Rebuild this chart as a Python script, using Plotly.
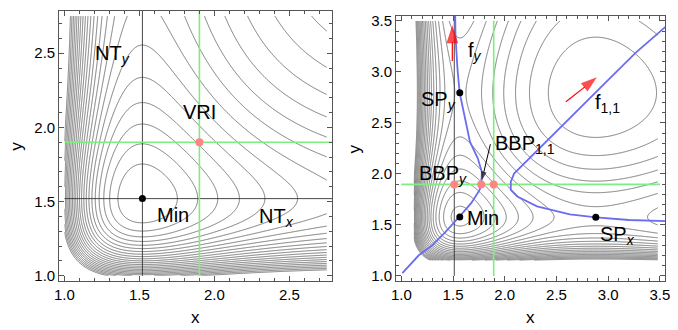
import numpy as np
import plotly.graph_objects as go

# ---------------- data ----------------
# model surface: two Morse-type valleys
R0 = 1.52            # position of the minimum of the unperturbed surface
R_VRI = 1.9          # valley-ridge inflection point coordinate
left_domain = [1.0, 2.75]
left_level_step = 0.12
left_level_max = 2.76

right_domain_x = [1.12, 3.48]
right_domain_y = [1.15, 3.5]
right_level_base = 0.0072
right_level_step = 0.0663
right_level_max = 1.45

# left panel points
min_left = [1.52, 1.52]
vri_pt = [1.9, 1.9]

# right panel points
min_right = [1.565, 1.578]
sp_x = [2.88, 1.575]
sp_y = [1.565, 2.795]
bbp_xs = [1.512, 1.772, 1.893]
bbp_ys = [1.897, 1.897, 1.897]

# Newton trajectories (blue curves)
nt1_x = [1.010, 1.169, 1.296, 1.423, 1.560, 1.677, 1.757, 1.772, 1.779, 1.740, 1.664, 1.614, 1.564, 1.543, 1.524, 1.519]
nt1_y = [1.027, 1.202, 1.298, 1.427, 1.579, 1.715, 1.843, 1.897, 2.015, 2.150, 2.313, 2.546, 2.795, 3.026, 3.346, 3.666]
nt2_x = [3.645, 3.534, 3.264, 2.947, 2.629, 2.376, 2.185, 2.090, 2.058, 2.058, 2.121, 2.312, 2.629, 2.883, 3.200, 3.534, 3.645]
nt2_y = [3.522, 3.426, 3.186, 2.867, 2.546, 2.291, 2.099, 2.003, 1.922, 1.843, 1.778, 1.682, 1.603, 1.574, 1.548, 1.538, 1.535]

# force arrows [tail, head]
fy_arrow_x = [1.493, 1.493]
fy_arrow_y = [3.107, 3.458]
f11_arrow_x = [2.591, 2.89]
f11_arrow_y = [2.706, 2.946]
bbp_arrow_x = [1.861, 1.779]
bbp_arrow_y = [2.291, 1.938]

# ---------------- model ----------------
a = np.log(2.0) / (R_VRI - R0)

def morse(r):
    u = np.exp(-a * (r - R0))
    return (1 - u) ** 2

def dmorse(r):
    u = np.exp(-a * (r - R0))
    return 2 * a * u * (1 - u)

Fx = dmorse(sp_x[0])
Fy = dmorse(sp_y[1])

xl = np.linspace(left_domain[0], left_domain[1], 400)
yl = np.linspace(left_domain[0], left_domain[1], 400)
XL, YL = np.meshgrid(xl, yl)
ZL = morse(XL) + morse(YL)

xr = np.linspace(right_domain_x[0], right_domain_x[1], 450)
yr = np.linspace(right_domain_y[0], right_domain_y[1], 450)
XR, YR = np.meshgrid(xr, yr)
ZR = morse(XR) - Fx * (XR - R0) + morse(YR) - Fy * (YR - R0)

GRAY = "#5a5a5a"
GREEN = "#7eee7e"
PINK = "#ff8585"
BLUE = "#6c6cf0"
FONT = "Liberation Sans, Arial, sans-serif"

fig = go.Figure()

fig.add_trace(go.Contour(
    x=xl, y=yl, z=ZL, xaxis="x", yaxis="y",
    contours=dict(coloring="lines", start=left_level_step, end=left_level_max, size=left_level_step),
    colorscale=[[0, GRAY], [1, GRAY]], showscale=False,
    line=dict(width=0.8, smoothing=1), hoverinfo="skip"))

fig.add_trace(go.Contour(
    x=xr, y=yr, z=ZR, xaxis="x2", yaxis="y2",
    contours=dict(coloring="lines", start=right_level_base, end=right_level_max, size=right_level_step),
    colorscale=[[0, GRAY], [1, GRAY]], showscale=False,
    line=dict(width=0.8, smoothing=1), hoverinfo="skip"))

def line(xs, ys, color, width, ax=""):
    fig.add_trace(go.Scatter(x=xs, y=ys, mode="lines", xaxis="x" + ax, yaxis="y" + ax,
                             line=dict(color=color, width=width), hoverinfo="skip", showlegend=False))

# left panel guide lines
line([left_domain[0], 3.0], [min_left[1], min_left[1]], "#333333", 0.9)
line([min_left[0], min_left[0]], [left_domain[0], 3.0], "#333333", 0.9)
line([left_domain[0], 3.0], [vri_pt[1], vri_pt[1]], GREEN, 1.6)
line([vri_pt[0], vri_pt[0]], [left_domain[0], 3.0], GREEN, 1.6)

# right panel guide lines
line([bbp_xs[0], bbp_xs[0]], [1.0, 3.7], "#333333", 0.9, "2")
line([1.0, 3.5], [bbp_ys[0], bbp_ys[0]], GREEN, 1.6, "2")
line([bbp_xs[2], bbp_xs[2]], [1.0, 3.5], GREEN, 1.6, "2")
line(nt1_x, nt1_y, BLUE, 1.8, "2")
line(nt2_x, nt2_y, BLUE, 1.8, "2")

def dots(xs, ys, color, size, ax=""):
    fig.add_trace(go.Scatter(x=xs, y=ys, mode="markers", xaxis="x" + ax, yaxis="y" + ax,
                             marker=dict(color=color, size=size), hoverinfo="skip", showlegend=False))

dots([min_left[0]], [min_left[1]], "black", 7)
dots([vri_pt[0]], [vri_pt[1]], PINK, 8)
dots(bbp_xs, bbp_ys, PINK, 8, "2")
dots([min_right[0], sp_x[0], sp_y[0]], [min_right[1], sp_x[1], sp_y[1]], "black", 7, "2")

def arrow(xs, ys, color, width, head, ax="2"):
    fig.add_trace(go.Scatter(x=xs, y=ys, mode="lines+markers", xaxis="x" + ax, yaxis="y" + ax,
                             line=dict(color=color, width=width),
                             marker=dict(symbol=["circle", "arrow"], size=[0, head], color=color,
                                         angleref="previous", line=dict(width=0)),
                             hoverinfo="skip", showlegend=False))

arrow(fy_arrow_x, fy_arrow_y, "red", 1.2, 19)
arrow(f11_arrow_x, f11_arrow_y, "red", 1.2, 17)
arrow(bbp_arrow_x, bbp_arrow_y, "black", 1.0, 9)

def label(text, x, y, ax=""):
    fig.add_annotation(text=text, x=x, y=y, xref="x" + ax, yref="y" + ax, showarrow=False,
                       xanchor="left", yanchor="middle", font=dict(family=FONT, size=20, color="black"))

label("NT<sub><i>y</i></sub>", 1.191, 2.49)
label("VRI", 1.777, 2.101)
label("Min", 1.601, 1.407)
label("NT<sub><i>x</i></sub>", 2.281, 1.39)

label("f<sub><i>y</i></sub>", 1.629, 3.20, "2")
label("SP<sub><i>y</i></sub>", 1.169, 2.72, "2")
label("f<sub>1,1</sub>", 2.852, 2.69, "2")
label("BBP<sub>1,1</sub>", 1.883, 2.29, "2")
label("BBP<sub><i>y</i></sub>", 1.153, 1.99, "2")
label("Min", 1.614, 1.571, "2")
label("SP<sub><i>x</i></sub>", 2.9, 1.40, "2")

axis_common = dict(showline=True, linecolor="#555555", linewidth=1, mirror="allticks",
                   ticks="inside", ticklen=5, tickcolor="#555555", tickwidth=0.8,
                   showgrid=False, zeroline=False,
                   tickfont=dict(family=FONT, size=15, color="black"),
                   minor=dict(ticks="inside", ticklen=3, dtick=0.1, tickcolor="#555555", tickwidth=0.6))

ticks_l = [1.0, 1.5, 2.0, 2.5]
ticks_r = [1.0, 1.5, 2.0, 2.5, 3.0, 3.5]

fig.update_layout(
    width=678, height=330, margin=dict(l=0, r=0, t=0, b=0),
    paper_bgcolor="white", plot_bgcolor="white", showlegend=False,
    xaxis=dict(domain=[55 / 678, 332 / 678], range=[0.965, 2.785], tickvals=ticks_l,
               ticktext=[f"{v:.1f}" for v in ticks_l], anchor="y", **axis_common),
    yaxis=dict(domain=[47 / 330, 323 / 330], range=[0.965, 2.785], tickvals=ticks_l,
               ticktext=[f"{v:.1f}" for v in ticks_l], anchor="x", **axis_common),
    xaxis2=dict(domain=[397 / 678, 670 / 678], range=[0.95, 3.55], tickvals=ticks_r,
                ticktext=[f"{v:.1f}" for v in ticks_r], anchor="y2", **axis_common),
    yaxis2=dict(domain=[47 / 330, 318 / 330], range=[0.95, 3.55], tickvals=ticks_r,
                ticktext=[f"{v:.1f}" for v in ticks_r], anchor="x2", **axis_common),
)

for txt, x, y, ang in [("x", 193.5 / 678, 1 - 320 / 330, 0), ("x", 533.5 / 678, 1 - 320 / 330, 0),
                       ("y", 12 / 678, 1 - 145 / 330, -90), ("y", 355 / 678, 1 - 148 / 330, -90)]:
    fig.add_annotation(text=txt, x=x, y=y, xref="paper", yref="paper", showarrow=False,
                       xanchor="center", yanchor="middle", textangle=ang,
                       font=dict(family=FONT, size=17, color="black"))

fig.write_html("out.html", config={"displayModeBar": False},
               post_script="document.body.style.margin='0px';document.body.style.overflow='hidden';")
